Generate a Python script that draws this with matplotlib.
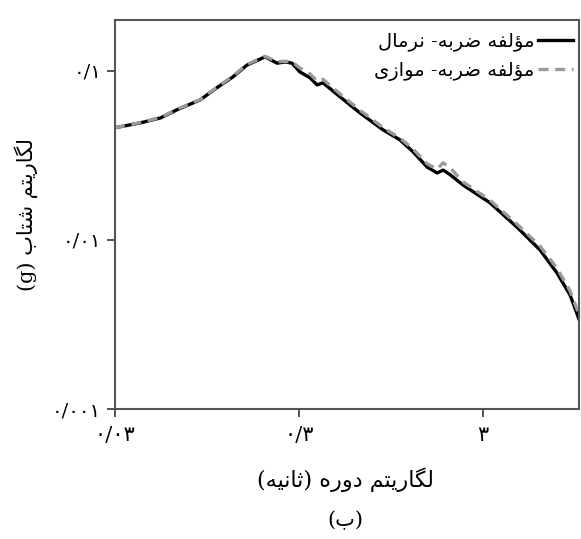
import numpy as np
import matplotlib
matplotlib.use('Agg')
import matplotlib.pyplot as plt

# Period (s) and spectral acceleration (g)
period = [0.030, 0.041, 0.053, 0.065, 0.087, 0.107, 0.131, 0.156, 0.196, 0.228,
          0.252, 0.275, 0.303, 0.344, 0.376, 0.405, 0.501, 0.643, 0.858, 1.06,
          1.25, 1.49, 1.69, 1.82, 1.99, 2.34, 3.27, 4.59, 6.12, 7.57, 8.91, 10.0]
sa_normal = [0.0461, 0.0492, 0.0527, 0.0588, 0.0673, 0.0793, 0.092, 0.108, 0.121, 0.111,
             0.113, 0.111, 0.0986, 0.091, 0.0826, 0.085, 0.0702, 0.0564, 0.0448, 0.0391,
             0.0332, 0.0270, 0.0249, 0.0259, 0.0243, 0.0211, 0.0166, 0.0119, 0.00873, 0.00638,
             0.00473, 0.00337]
sa_parallel = [0.0461, 0.0494, 0.0530, 0.0592, 0.0676, 0.0798, 0.093, 0.109, 0.122, 0.113,
               0.114, 0.113, 0.104, 0.096, 0.087, 0.089, 0.073, 0.0585, 0.0462, 0.0400,
               0.0345, 0.0282, 0.0262, 0.0286, 0.0267, 0.0220, 0.0172, 0.0124, 0.0092, 0.0068,
               0.0050, 0.0036]

x_ticks = [0.03, 0.3, 3]
x_tick_labels = ['۰/۰۳', '۰/۳', '۳']
y_ticks = [0.001, 0.01, 0.1]
y_tick_labels = ['۰/۰۰۱', '۰/۰۱', '۰/۱']

label_normal = 'مؤلفه ضربه- نرمال'
label_parallel = 'مؤلفه ضربه- موازی'
x_label = 'لگاریتم دوره (ثانیه)'
y_label = 'لگاریتم شتاب (g)'
caption = '(ب)'

# matplotlib does no Arabic shaping, so map letters to presentation forms by hand
# forms: (isolated, final, initial, medial); right-joining letters have only 2
FORMS = {
    'ا': ('\uFE8D', '\uFE8E'), 'د': ('\uFEA9', '\uFEAA'), 'ر': ('\uFEAD', '\uFEAE'),
    'ز': ('\uFEAF', '\uFEB0'), 'و': ('\uFEED', '\uFEEE'), 'ؤ': ('\uFE85', '\uFE86'),
    'ب': ('\uFE8F', '\uFE90', '\uFE91', '\uFE92'), 'ت': ('\uFE95', '\uFE96', '\uFE97', '\uFE98'),
    'ث': ('\uFE99', '\uFE9A', '\uFE9B', '\uFE9C'), 'ش': ('\uFEB5', '\uFEB6', '\uFEB7', '\uFEB8'),
    'ض': ('\uFEBD', '\uFEBE', '\uFEBF', '\uFEC0'), 'ف': ('\uFED1', '\uFED2', '\uFED3', '\uFED4'),
    'ل': ('\uFEDD', '\uFEDE', '\uFEDF', '\uFEE0'), 'م': ('\uFEE1', '\uFEE2', '\uFEE3', '\uFEE4'),
    'ن': ('\uFEE5', '\uFEE6', '\uFEE7', '\uFEE8'), 'ه': ('\uFEE9', '\uFEEA', '\uFEEB', '\uFEEC'),
    'ی': ('\uFBFC', '\uFBFD', '\uFBFE', '\uFBFF'), 'گ': ('\uFB92', '\uFB93', '\uFB94', '\uFB95'),
}


def shape_word(w):
    out = []
    for i, c in enumerate(w):
        if c not in FORMS:
            out.append(c)
            continue
        f = FORMS[c]
        prev = w[i - 1] if i > 0 else ''
        nxt = w[i + 1] if i + 1 < len(w) else ''
        join_prev = prev in FORMS and len(FORMS[prev]) == 4
        join_next = len(f) == 4 and nxt in FORMS
        if join_prev and join_next:
            out.append(f[3])
        elif join_prev:
            out.append(f[1])
        elif join_next:
            out.append(f[2])
        else:
            out.append(f[0])
    return ''.join(out)


def rtl(text):
    tokens = []
    for tok in text.split(' '):
        if not any(c in FORMS for c in tok):
            tokens.append(tok)
            continue
        if tok.startswith('(') and tok.endswith(')'):
            tokens.append('(' + shape_word(tok[1:-1])[::-1] + ')')
        else:
            tokens.append(shape_word(tok)[::-1])
    return ' '.join(tokens[::-1])


plt.rcParams['font.family'] = ['DejaVu Serif', 'DejaVu Sans']

fig = plt.figure(figsize=(5.81, 5.39), dpi=100)
ax = fig.add_axes([0.198, 0.241, 0.799, 0.722])

ax.plot(period, sa_normal, color='black', lw=2.4, label=rtl(label_normal))
ax.plot(period, sa_parallel, color='#9a9a9a', lw=2.4, ls=(0, (3, 2)), label=rtl(label_parallel))

ax.set_xscale('log')
ax.set_yscale('log')
ax.set_xlim(0.03, 10)
ax.set_ylim(0.001, 0.2)
ax.minorticks_off()
ax.set_xticks(x_ticks)
ax.set_xticklabels(x_tick_labels, fontsize=15)
ax.set_yticks(y_ticks)
ax.set_yticklabels(y_tick_labels, fontsize=14)
ax.tick_params(direction='out', length=6, width=1.3, color='#444444', pad=4)
ax.tick_params(axis='x', pad=6)

for s in ax.spines.values():
    s.set_color('#555555')
    s.set_linewidth(1.5)

ax.legend(loc='upper right', bbox_to_anchor=(1.0, 0.982), frameon=False, markerfirst=False,
          fontsize=14, handlelength=1.8, borderaxespad=0.0, labelspacing=0.55,
          handletextpad=0.2, borderpad=0.3)

ax.set_ylabel(rtl(y_label), fontsize=15, labelpad=10)
fig.text(0.594, 0.11, rtl(x_label), fontsize=16, ha='center', va='center')
fig.text(0.594, 0.035, rtl(caption), fontsize=15, ha='center', va='center')

fig.savefig('out.png', dpi=100)
